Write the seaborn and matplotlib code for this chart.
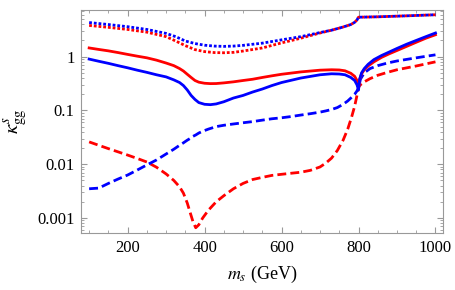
import matplotlib
matplotlib.use('Agg')
import matplotlib.pyplot as plt
import matplotlib.ticker as mticker
import seaborn as sns
import numpy as np

# masses (GeV) for the solid curves
x_solid = [100, 125, 150, 175, 200, 225, 250, 275, 300, 320, 335, 345, 355,
           365, 375, 385, 400, 415, 430, 450, 475, 500, 525, 550, 575, 600,
           650, 700, 730, 750, 765, 780, 790, 796, 800, 803, 808, 815, 825,
           840, 860, 880, 900, 925, 950, 975, 1000]
red_solid = [1.45, 1.36, 1.28, 1.19, 1.1, 1.02, 0.95, 0.86, 0.76, 0.68, 0.6,
             0.54, 0.47, 0.41, 0.36, 0.335, 0.32, 0.315, 0.316, 0.325, 0.34,
             0.36, 0.38, 0.41, 0.44, 0.47, 0.52, 0.56, 0.57, 0.565, 0.545,
             0.49, 0.43, 0.36, 0.27, 0.38, 0.48, 0.57, 0.67, 0.8, 0.97, 1.13,
             1.3, 1.55, 1.85, 2.2, 2.55]
blue_solid = [0.9, 0.82, 0.75, 0.68, 0.62, 0.56, 0.51, 0.46, 0.42, 0.37, 0.33,
              0.29, 0.24, 0.19, 0.16, 0.14, 0.13, 0.128, 0.132, 0.145, 0.17,
              0.19, 0.22, 0.25, 0.29, 0.33, 0.4, 0.46, 0.48, 0.475, 0.46,
              0.41, 0.36, 0.3, 0.24, 0.38, 0.5, 0.6, 0.72, 0.88, 1.05, 1.22,
              1.42, 1.7, 2.0, 2.35, 2.75]

# dashed curves
x_dash = [100, 125, 150, 175, 200, 225, 250, 275, 300, 320, 335, 345, 355,
          362, 370, 377, 385, 395, 410, 430, 450, 475, 500, 525, 550, 575,
          600, 625, 650, 675, 700, 715, 730, 745, 760, 772, 782, 790, 796,
          800, 805, 815, 830, 850, 875, 900, 950, 1000]
red_dashed = [0.026, 0.0225, 0.0195, 0.017, 0.0148, 0.0128, 0.011, 0.0088,
              0.0066, 0.005, 0.0038, 0.0029, 0.0019, 0.0013, 0.00085, 0.00066,
              0.00075, 0.001, 0.0014, 0.002, 0.0026, 0.0035, 0.0044, 0.0052,
              0.0057, 0.0062, 0.0065, 0.0068, 0.0071, 0.0077, 0.0089, 0.0105,
              0.013, 0.018, 0.028, 0.045, 0.075, 0.12, 0.19, 0.27, 0.3, 0.34,
              0.39, 0.45, 0.51, 0.57, 0.67, 0.8]
blue_dashed = [0.0035, 0.0036, 0.0044, 0.0053, 0.0063, 0.0078, 0.0097, 0.012,
               0.0155, 0.019, 0.0225, 0.025, 0.028, 0.03, 0.033, 0.035, 0.038,
               0.041, 0.045, 0.05, 0.053, 0.056, 0.059, 0.062, 0.066, 0.07,
               0.073, 0.077, 0.082, 0.087, 0.093, 0.098, 0.104, 0.113, 0.13,
               0.15, 0.175, 0.2, 0.23, 0.26, 0.38, 0.5, 0.6, 0.68, 0.76, 0.83,
               0.95, 1.08]

# dotted curves
x_dot = [100, 150, 200, 250, 300, 325, 350, 375, 400, 425, 450, 475, 500,
         550, 600, 650, 700, 730, 760, 780, 790, 796, 800, 850, 900, 950,
         1000]
red_dotted = [3.8, 3.5, 3.2, 2.85, 2.35, 1.95, 1.6, 1.35, 1.24, 1.19, 1.18,
              1.2, 1.27, 1.45, 1.8, 2.2, 2.75, 3.1, 3.55, 3.95, 4.35, 4.8,
              5.4, 5.5, 5.65, 5.82, 6.0]
blue_dotted = [4.3, 3.95, 3.6, 3.2, 2.7, 2.35, 1.95, 1.75, 1.63, 1.57, 1.55,
               1.57, 1.62, 1.78, 2.05, 2.35, 2.8, 3.1, 3.55, 3.95, 4.35, 4.8,
               5.4, 5.5, 5.65, 5.82, 6.0]

plt.rcParams['font.family'] = ['Liberation Serif', 'DejaVu Serif']
plt.rcParams['mathtext.fontset'] = 'stix'

fig = plt.figure(figsize=(4.55, 2.9), dpi=100)
ax = fig.add_axes([0.179, 0.197, 0.795, 0.769])

lw = 2.0
dash = (0, (3.2, 1.5))
dot = (0, (1.0, 0.7))

sns.lineplot(x=x_dot, y=red_dotted, ax=ax, color='#ff0000', lw=lw, linestyle=dot)
sns.lineplot(x=x_dot, y=blue_dotted, ax=ax, color='#0000ff', lw=lw, linestyle=dot)
sns.lineplot(x=x_dash, y=red_dashed, ax=ax, color='#ff0000', lw=lw, linestyle=dash)
sns.lineplot(x=x_dash, y=blue_dashed, ax=ax, color='#0000ff', lw=lw, linestyle=dash)
sns.lineplot(x=x_solid, y=red_solid, ax=ax, color='#ff0000', lw=lw)
sns.lineplot(x=x_solid, y=blue_solid, ax=ax, color='#0000ff', lw=lw)

ax.set_yscale('log')
ax.set_xlim(80, 1020)
ax.set_ylim(5.3e-4, 7.4)

ax.set_xticks([200, 400, 600, 800, 1000])
ax.xaxis.set_minor_locator(mticker.MultipleLocator(50))
ax.set_yticks([0.001, 0.01, 0.1, 1])
ax.set_yticklabels(['0.001', '0.01', '0.1', '1'])
ax.yaxis.set_minor_locator(mticker.LogLocator(base=10, subs=np.arange(2, 10)))
ax.yaxis.set_minor_formatter(mticker.NullFormatter())

for s in ax.spines.values():
    s.set_color('#999999')
    s.set_linewidth(0.8)
ax.tick_params(which='both', direction='in', top=True, right=True,
               color='#999999', labelsize=12, labelcolor='black')
ax.tick_params(which='major', length=4, width=0.8, pad=5)
ax.tick_params(which='minor', length=2, width=0.6)

ax.set_xlabel(r'$m_s$ (GeV)', fontsize=13, labelpad=6)
ax.set_ylabel(r'$\kappa^{s}_{\mathrm{gg}}$', fontsize=15, labelpad=6)

fig.savefig('out.png', dpi=100)
